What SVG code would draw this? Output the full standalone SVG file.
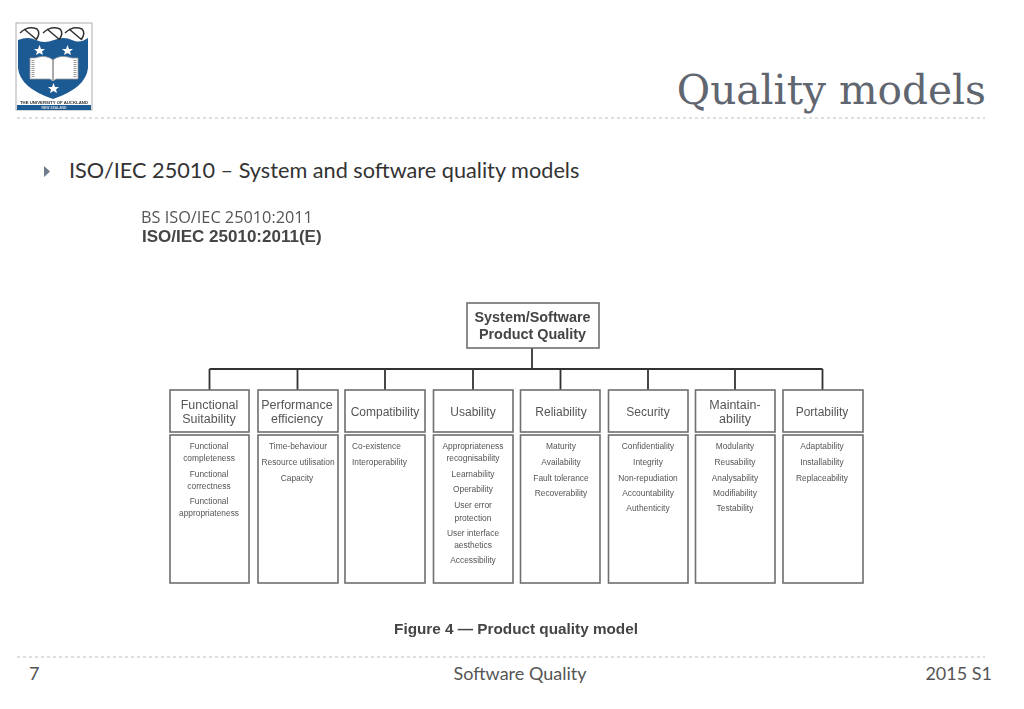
<svg xmlns="http://www.w3.org/2000/svg" width="1024" height="709" viewBox="0 0 1024 709">
<defs><filter id="soft" x="-5%" y="-5%" width="110%" height="110%"><feGaussianBlur stdDeviation="0.45"/></filter>
<filter id="softer" x="-5%" y="-5%" width="110%" height="110%"><feGaussianBlur stdDeviation="0.3"/></filter></defs>
<style>
.s{font-family:"Liberation Sans",Arial,sans-serif}
.box{fill:#fff;stroke:#6f6f6f;stroke-width:1.6;filter:url(#softer)}
.edge{fill:none;stroke:#333;stroke-width:1.8;filter:url(#softer)}
.h{font-family:"Liberation Sans",Arial,sans-serif;font-size:12.5px;fill:#555;text-anchor:middle;filter:url(#soft)}
.c{font-size:12px}
.r{font-size:14.400px;font-weight:bold;fill:#444}
.i{font-family:"Liberation Sans",Arial,sans-serif;font-size:8.400px;fill:#555;text-anchor:middle;filter:url(#soft)}
.l{text-anchor:start}
.dash{stroke:#bdbdbd;stroke-width:1;stroke-dasharray:3 3;fill:none}
.foot{font-family:"Lato","Open Sans",sans-serif;font-size:18px;fill:#555}
</style>
<rect width="1024" height="709" fill="#fff"/>
<g id="logo" filter="url(#softer)">
<rect x="16" y="23" width="76" height="87" fill="#fff" stroke="#999" stroke-width="0.8"/>
<path d="M18 40 Q28 36 36 40 T54 40 T72 40 T88 38 L88 68 Q86 88 53 99 Q20 88 18 68Z" fill="#1f5a94"/>
<path d="M20 33 Q28 25 37 29 Q41 33 36 40 M24 29 L37 40 M43 33 Q51 25 60 29 Q64 33 59 40 M47 29 L60 40 M65 33 Q73 25 82 29 Q86 33 81 40 M69 29 L82 40" fill="none" stroke="#333" stroke-width="1.500"/>
<path d="M30 58 H35 Q46 54 53 60 Q60 54 72 58 H78 V79 H56 L53 81 L50 79 H30Z" fill="#fff" stroke="#9a9a9a" stroke-width="0.8"/>
<path d="M33 60 V77 M75 60 V77" stroke="#999" stroke-width="3" stroke-dasharray="1 1"/>
<path d="M53 60 V80" stroke="#555" stroke-width="1"/>
<polygon points="39.500,45 41,49 45,49 42,51.500 43,55 39.500,53 36,55 37,51.500 34,49 38,49" fill="#fff"/>
<polygon points="67.500,45 69,49 73,49 70,51.500 71,55 67.500,53 64,55 65,51.500 62,49 66,49" fill="#fff"/>
<polygon points="53.500,83 55,87 59,87 56,89.500 57,93 53.500,91 50,93 51,89.500 48,87 52,87" fill="#fff"/>
<rect x="17" y="105" width="74" height="5" fill="#1f5a94"/>
<text x="54" y="103.500" font-size="4.300" font-weight="bold" fill="#333" text-anchor="middle" class="s">THE UNIVERSITY OF AUCKLAND</text>
<text x="54" y="109" font-size="3.400" font-weight="bold" fill="#ddd" text-anchor="middle" class="s">NEW ZEALAND</text>
</g>
<g id="title">
<text x="986" y="104" text-anchor="end" font-family="'DejaVu Serif',serif" font-size="40.700" fill="#5f6670">Quality models</text>
<line class="dash" x1="17" y1="118" x2="985" y2="118"/>
</g>
<g id="bullet">
<polygon points="44,166 44,177 50,171.500" fill="#6d7a8a"/>
<text x="69" y="178" font-family="Lato,'Open Sans',sans-serif" font-size="21.700" fill="#333">ISO/IEC 25010 – System and software quality models</text>
</g>
<g id="standard" filter="url(#softer)">
<text x="141" y="223" font-family="'Open Sans',sans-serif" font-size="16.300" fill="#555">BS ISO/IEC 25010:2011</text>
<text x="142" y="242" class="s" font-size="17" font-weight="bold" fill="#444">ISO/IEC 25010:2011(E)</text>
</g>
<g id="connectors">
<path class="edge" d="M532 348V369M209.500 369H822.500M209.500 369V390M297.500 369V390M385 369V390M473 369V390M560.500 369V390M648 369V390M735 369V390M822.500 369V390"/>
</g>
<g id="root">
<rect class="box" x="467" y="303" width="132" height="45"/>
<text class="h r" x="532.500" y="322">System/Software</text>
<text class="h r" x="532.500" y="339">Product Quality</text>
</g>
<g id="functional">
<rect class="box" x="170" y="390" width="79" height="42"/><rect class="box" x="170" y="435" width="79" height="148"/>
<text class="h" x="209.500" y="409">Functional</text><text class="h" x="209" y="423">Suitability</text>
<text class="i" x="209" y="449">Functional</text><text class="i" x="209" y="461">completeness</text><text class="i" x="209" y="477">Functional</text><text class="i" x="209" y="489">correctness</text><text class="i" x="209" y="504">Functional</text><text class="i" x="209" y="516">appropriateness</text>
</g>
<g id="performance">
<rect class="box" x="258" y="390" width="80" height="42"/><rect class="box" x="258" y="435" width="80" height="148"/>
<text class="h" x="297" y="409">Performance</text><text class="h" x="297" y="423">efficiency</text>
<text class="i" x="298" y="449">Time-behaviour</text><text class="i" x="298" y="465">Resource utilisation</text><text class="i" x="297" y="481">Capacity</text>
</g>
<g id="compatibility">
<rect class="box" x="345" y="390" width="80" height="42"/><rect class="box" x="345" y="435" width="80" height="148"/>
<text class="h c" x="385" y="416">Compatibility</text>
<text class="i l" x="352" y="449">Co-existence</text><text class="i l" x="352" y="465">Interoperability</text>
</g>
<g id="usability">
<rect class="box" x="433.500" y="390" width="79.500" height="42"/><rect class="box" x="433.500" y="435" width="79.500" height="148"/>
<text class="h c" x="473" y="416">Usability</text>
<text class="i" x="473" y="449">Appropriateness</text><text class="i" x="473" y="461">recognisability</text><text class="i" x="473" y="477">Learnability</text><text class="i" x="473" y="492">Operability</text><text class="i" x="473" y="508">User error</text><text class="i" x="473" y="521">protection</text><text class="i" x="473" y="536">User interface</text><text class="i" x="473" y="548">aesthetics</text><text class="i" x="473" y="563">Accessibility</text>
</g>
<g id="reliability">
<rect class="box" x="520.500" y="390" width="79.500" height="42"/><rect class="box" x="520.500" y="435" width="79.500" height="148"/>
<text class="h c" x="561" y="416">Reliability</text>
<text class="i" x="561" y="449">Maturity</text><text class="i" x="561" y="465">Availability</text><text class="i" x="561" y="481">Fault tolerance</text><text class="i" x="561" y="496">Recoverability</text>
</g>
<g id="security">
<rect class="box" x="608.500" y="390" width="79.500" height="42"/><rect class="box" x="608.500" y="435" width="79.500" height="148"/>
<text class="h c" x="648" y="416">Security</text>
<text class="i" x="648" y="449">Confidentiality</text><text class="i" x="648" y="465">Integrity</text><text class="i" x="648" y="481">Non-repudiation</text><text class="i" x="648" y="496">Accountability</text><text class="i" x="648" y="511">Authenticity</text>
</g>
<g id="maintainability">
<rect class="box" x="695.500" y="390" width="79.500" height="42"/><rect class="box" x="695.500" y="435" width="79.500" height="148"/>
<text class="h" x="735" y="409">Maintain-</text><text class="h" x="735" y="423">ability</text>
<text class="i" x="735" y="449">Modularity</text><text class="i" x="735" y="465">Reusability</text><text class="i" x="735" y="481">Analysability</text><text class="i" x="735" y="496">Modifiability</text><text class="i" x="735" y="511">Testability</text>
</g>
<g id="portability">
<rect class="box" x="783" y="390" width="80" height="42"/><rect class="box" x="783" y="435" width="80" height="148"/>
<text class="h c" x="822" y="416">Portability</text>
<text class="i" x="822" y="449">Adaptability</text><text class="i" x="822" y="465">Installability</text><text class="i" x="822" y="481">Replaceability</text>
</g>
<g id="caption" filter="url(#softer)">
<text x="516" y="634" text-anchor="middle" class="s" font-size="15.300" font-weight="bold" fill="#444">Figure 4 — Product quality model</text>
</g>
<g id="footer">
<line class="dash" x1="17" y1="657" x2="985" y2="657"/>
<text class="foot" x="29" y="680">7</text>
<text class="foot" x="520" y="680" text-anchor="middle">Software Quality</text>
<text class="foot" x="992" y="680" text-anchor="end">2015 S1</text>
</g>
</svg>
